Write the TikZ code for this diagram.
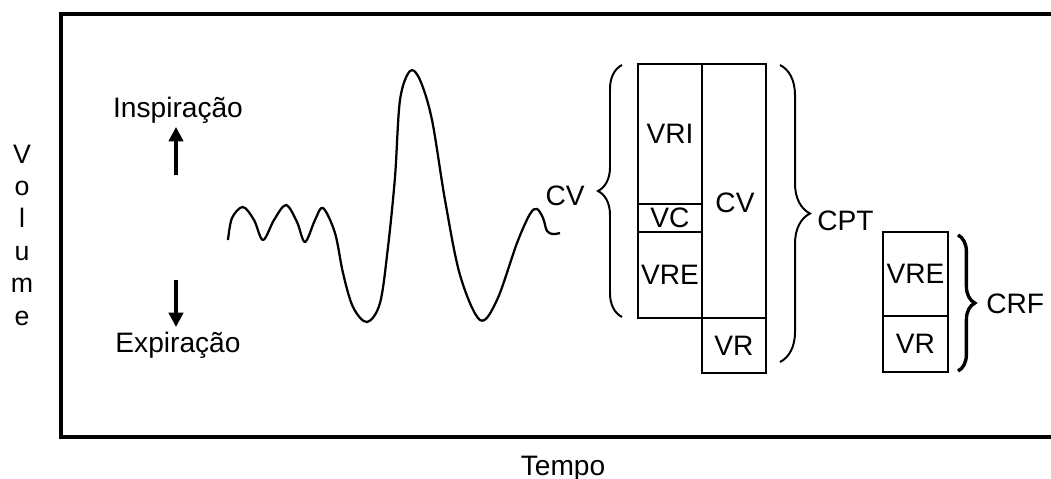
\documentclass[tikz,border=0pt]{standalone}
\usepackage{fontspec}
\setmainfont{Liberation Sans}
\usepackage{tikz}
\usetikzlibrary{arrows.meta, positioning, calc, decorations.pathreplacing}

\tikzset{
  lbl/.style={font=\fontsize{20}{24}\selectfont, inner sep=0pt},
  box/.style={draw, line width=1.3pt, lbl},
  curly/.style={decorate, line width=1.4pt, decoration={brace, amplitude=#1}},
  dirarrow/.style={line width=2.2pt, -{Triangle[length=0.36cm, width=0.36cm]}}
}

\begin{document}
\begin{tikzpicture}[x=0.025cm, y=-0.025cm]
  \useasboundingbox (0,0) rectangle (1051,479);
  % frame
  \draw[line width=2.2pt] (1051,14) -- (61,14) -- (61,437) -- (1051,437);
  \node[lbl, anchor=base] (tempo) at (563,475) {Tempo};
  \foreach \ch [count=\i] in {V,o,l,u,m,e}
    \node[lbl, anchor=base, font=\fontsize{19}{22}\selectfont] (vol\i) at (22,{163+32.4*(\i-1)}) {\ch};

  % inspiration / expiration
  \node[lbl, anchor=base] (insp) at (178,117) {Inspiração};
  \node[lbl, anchor=base] (expi) at (178,352) {Expiração};
  \coordinate (up0) at (176,175);
  \coordinate (dn0) at (176,280);
  \draw[dirarrow] (up0) -- (176,127);
  \draw[dirarrow] (dn0) -- (176,327);

  % spirogram
  \draw[line width=1.6pt, line join=round] plot[smooth, tension=0.55] coordinates {
    (228,240) (232,218) (243,207) (254,220) (263,240) (274,220) (286,205)
    (297,222) (305,242) (315,220) (323,208) (335,233) (343,273) (353,307)
    (367,322) (380,303) (388,247) (395,177) (400,100) (410,71) (420,80)
    (432,120) (445,200) (460,275) (480,320) (497,300) (517,243)
    (530,214) (537,209) (543,218) (547,231) (553,234) (560,233)};

  % lung volumes
  \node[box, minimum width=1.6cm, minimum height=3.5cm] (vri) at (670,134) {VRI};
  \node[box, minimum width=1.6cm, minimum height=0.7cm] (vc) at (670,218) {VC};
  \node[box, minimum width=1.6cm, minimum height=2.15cm] (vre) at (670,275) {VRE};
  \node[box, minimum width=1.6cm, minimum height=6.35cm] (cvbox) at (734,191) {};
  \node[lbl] (cvtxt) at (735,203) {CV};
  \node[box, minimum width=1.6cm, minimum height=1.375cm] (vr) at (734,345.5) {VR};

  \node[box, minimum width=1.625cm, minimum height=2.1cm] (vre2) at (915.5,274) {VRE};
  \node[box, minimum width=1.625cm, minimum height=1.4cm] (vr2) at (915.5,344) {VR};

  % braces
  \draw[curly=0.6cm] (622,317) -- (622,65);
  \node[lbl, anchor=base east] (cv) at (585,205) {CV};
  \draw[curly=0.75cm] (780,65) -- (780,362);
  \node[lbl, anchor=base west] (cpt) at (817,230) {CPT};
  \draw[curly=0.42cm, line width=2.4pt] (958,235) -- (958,371);
  \node[lbl, anchor=base west] (crf) at (986,313) {CRF};
\end{tikzpicture}
\end{document}
